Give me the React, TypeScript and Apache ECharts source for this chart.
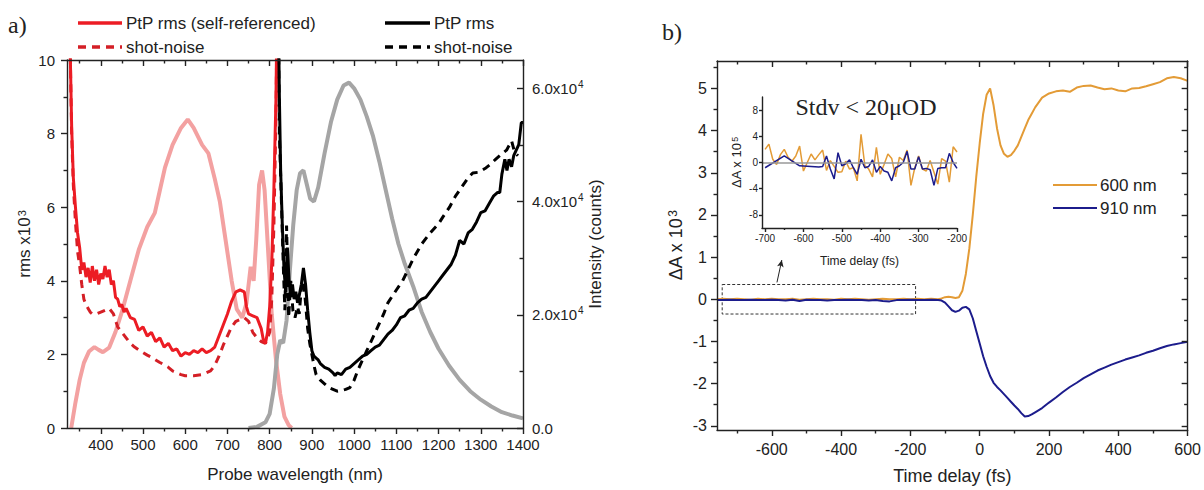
import React, { useEffect, useRef } from 'react';
import * as echarts from 'echarts';

// ---------- Panel a data ----------
const pinkWl = [330, 340, 350, 360, 372, 385, 395, 405, 420, 435, 450, 470, 490, 510, 528, 540, 552, 570, 590, 606, 620, 640, 655, 670, 682, 696, 710, 722, 735, 745, 755, 762, 768, 775, 782, 788, 795, 805, 815, 825, 835, 845, 852];
const pinkCounts = [0, 4500, 8500, 11500, 13500, 14300, 13800, 13400, 14200, 17000, 20500, 26000, 31500, 35500, 38000, 42000, 46000, 50000, 53000, 54500, 53000, 50000, 48500, 44000, 40000, 33000, 26000, 21000, 19500, 22000, 28500, 26000, 33000, 43000, 45500, 42000, 33000, 20000, 12000, 6000, 2000, 500, 0];

const grayWl = [750, 770, 790, 800, 810, 818, 825, 832, 840, 848, 856, 864, 872, 880, 888, 896, 905, 915, 930, 945, 960, 975, 988, 1000, 1015, 1030, 1045, 1060, 1075, 1090, 1105, 1120, 1140, 1160, 1180, 1200, 1225, 1250, 1275, 1300, 1325, 1350, 1375, 1400];
const grayCounts = [0, 200, 1000, 2500, 7000, 13000, 15500, 15000, 19000, 28000, 36000, 42000, 45000, 45500, 43000, 40500, 40000, 42500, 48500, 54000, 58000, 60500, 61000, 60000, 58000, 55000, 51500, 47000, 42000, 37000, 32500, 29000, 25000, 20500, 17000, 14000, 11000, 8500, 6500, 5000, 3800, 2800, 2200, 1700];

const redWl = [326, 328, 331, 335, 340, 345, 350, 355, 360, 365, 370, 375, 380, 385, 390, 395, 400, 405, 410, 415, 420, 425, 430, 435, 440, 445, 450, 455, 460, 470, 480, 490, 500, 510, 520, 530, 540, 550, 560, 570, 580, 590, 600, 610, 620, 630, 640, 650, 660, 670, 680, 690, 700, 710, 720, 730, 740, 745, 750, 760, 770, 780, 785, 790, 795, 800, 805, 810, 815, 818];
const redRms = [12, 10, 8.2, 6.8, 6.0, 5.3, 4.9, 4.3, 4.5, 4.1, 4.35, 3.95, 4.4, 4.0, 4.3, 3.9, 4.2, 4.05, 4.4, 4.1, 4.3, 3.9, 4.0, 3.55, 3.5, 3.3, 3.35, 3.15, 3.25, 3.0, 2.95, 2.65, 2.75, 2.5, 2.6, 2.35, 2.45, 2.2, 2.3, 2.1, 2.15, 1.95, 2.05, 2.0, 2.1, 2.05, 2.15, 2.05, 2.1, 2.2, 2.5, 2.8, 3.1, 3.45, 3.7, 3.75, 3.7, 3.3, 3.1, 3.05, 3.0, 2.7, 2.4, 2.3, 2.6, 3.3, 4.5, 6.5, 9, 12];

const redShotWl = [326, 328, 331, 335, 340, 345, 350, 355, 360, 365, 370, 375, 380, 390, 400, 410, 420, 430, 440, 450, 460, 470, 480, 490, 500, 510, 520, 530, 540, 550, 560, 570, 580, 590, 600, 620, 640, 660, 670, 680, 690, 700, 710, 720, 730, 740, 750, 760, 770, 780, 790, 800, 805, 810, 815, 818];
const redShot = [12, 10, 8.0, 6.6, 5.6, 4.8, 4.4, 3.9, 3.5, 3.35, 3.25, 3.15, 3.1, 3.1, 3.15, 3.2, 3.25, 3.1, 2.75, 2.6, 2.45, 2.3, 2.2, 2.12, 2.05, 1.98, 1.92, 1.85, 1.78, 1.72, 1.65, 1.55, 1.5, 1.45, 1.42, 1.42, 1.45, 1.55, 1.7, 1.95, 2.25, 2.5, 2.75, 2.9, 2.95, 3.0, 2.9, 2.6, 2.45, 2.35, 2.3, 2.6, 3.5, 5.5, 8.5, 12];

const blackWl = [820, 823, 826, 830, 834, 838, 842, 846, 850, 854, 858, 862, 866, 870, 875, 880, 885, 890, 895, 900, 905, 910, 915, 920, 930, 940, 950, 955, 960, 970, 980, 990, 1000, 1010, 1020, 1030, 1040, 1050, 1060, 1070, 1080, 1090, 1100, 1110, 1120, 1130, 1140, 1150, 1160, 1170, 1180, 1190, 1200, 1210, 1220, 1230, 1240, 1250, 1260, 1270, 1280, 1290, 1300, 1310, 1320, 1330, 1340, 1345, 1350, 1357, 1362, 1367, 1373, 1378, 1384, 1390, 1396, 1400];
const blackRms = [12, 9, 7, 5.5, 4.3, 3.7, 4.9, 4.0, 3.6, 3.9, 3.5, 3.7, 3.4, 3.6, 3.9, 4.35, 3.9, 3.2, 2.6, 2.1, 1.95, 1.9, 1.85, 1.75, 1.65, 1.6, 1.5, 1.42, 1.5, 1.45, 1.6, 1.65, 1.75, 1.85, 1.95, 2.0, 2.1, 2.2, 2.25, 2.4, 2.55, 2.65, 2.8, 3.0, 3.05, 3.2, 3.25, 3.4, 3.5, 3.55, 3.7, 3.85, 4.0, 4.15, 4.3, 4.45, 4.7, 5.1, 5.0, 5.3, 5.4, 5.6, 5.85, 5.9, 6.1, 6.3, 6.4, 6.4, 6.9, 7.3, 7.0, 7.3, 7.1, 7.4, 7.55, 7.7, 8.3, 8.3];

const blackShotWl = [820, 823, 827, 832, 836, 840, 845, 850, 855, 860, 866, 870, 875, 880, 885, 890, 895, 900, 905, 910, 920, 930, 940, 950, 960, 970, 980, 990, 1000, 1010, 1020, 1030, 1040, 1050, 1060, 1070, 1080, 1100, 1115, 1140, 1160, 1180, 1200, 1210, 1226, 1240, 1255, 1270, 1281, 1295, 1310, 1321, 1335, 1350, 1361, 1373, 1380, 1388];
const blackShot = [12, 8, 6.5, 4.5, 3.2, 5.5, 3.0, 4.0, 3.2, 3.0, 3.3, 3.1, 3.8, 4.0, 3.4, 2.7, 2.3, 2.0, 1.7, 1.45, 1.3, 1.2, 1.1, 1.05, 1.0, 1.02, 1.05, 1.1, 1.3, 1.6, 1.85, 2.1, 2.35, 2.6, 2.85, 3.1, 3.4, 3.75, 4.0, 4.6, 5.0, 5.3, 5.55, 5.73, 6.0, 6.3, 6.55, 6.8, 6.93, 6.95, 7.05, 7.15, 7.3, 7.45, 7.55, 7.8, 7.5, 7.4];

const aXMajor = [400, 500, 600, 700, 800, 900, 1000, 1100, 1200, 1300, 1400];
const aXMinor = [350, 450, 550, 650, 750, 850, 950, 1050, 1150, 1250, 1350];
const aYLeftMajor = [0, 2, 4, 6, 8, 10];
const aYLeftMinor = [1, 3, 5, 7, 9];
const aYRightMajor = [0, 20000, 40000, 60000];
const aYRightMinor = [10000, 30000, 50000];

// ---------- Panel b data ----------
const bTime = [-758, -740, -720, -700, -680, -660, -640, -620, -600, -580, -560, -540, -520, -500, -480, -460, -440, -420, -400, -380, -360, -340, -320, -300, -280, -260, -240, -220, -200, -180, -160, -140, -120,
  -110, -100, -90, -80, -70, -60, -50, -40, -30, -20, -10, 0, 10, 20, 30, 40, 50, 60, 70, 80, 90, 100, 110, 120, 130, 140, 150, 160,
  180, 200, 220, 240, 260, 280, 300, 320, 340, 360, 380, 400, 420, 440, 460, 480, 500, 520, 540, 560, 580, 600];
const b600 = [0.00, 0.01, 0.00, 0.01, 0.00, -0.01, 0.01, 0.00, 0.01, 0.00, 0.00, 0.01, -0.01, 0.00, 0.01, 0.00, 0.00, -0.01, 0.01, 0.00, 0.01, 0.00, -0.01, 0.00, 0.01, 0.00, 0.00, 0.01, 0.00, 0.01, 0.00, 0.01, 0.00,
  0.02, 0.05, 0.06, 0.05, 0.03, 0.05, 0.2, 0.6, 1.2, 2.0, 2.9, 3.7, 4.4, 4.85, 5.0, 4.6, 4.05, 3.65, 3.45, 3.38, 3.42, 3.52, 3.65, 3.85, 4.05, 4.25, 4.4, 4.55,
  4.78, 4.88, 4.93, 4.95, 4.92, 5.02, 5.06, 5.07, 5.02, 4.98, 5.0, 4.95, 4.93, 5.0, 5.01, 5.05, 5.1, 5.15, 5.24, 5.27, 5.24, 5.18];
const b910 = [-0.02, -0.02, -0.01, -0.02, -0.02, -0.01, -0.02, -0.02, -0.01, -0.02, -0.03, -0.01, -0.04, -0.01, -0.02, -0.02, -0.03, -0.02, -0.02, -0.01, -0.02, -0.02, -0.03, -0.02, -0.04, -0.05, -0.02, -0.02, -0.01, -0.02, -0.02, -0.01, -0.02,
  -0.03, -0.08, -0.17, -0.26, -0.3, -0.27, -0.2, -0.18, -0.24, -0.45, -0.75, -1.05, -1.35, -1.6, -1.82, -1.98, -2.08, -2.16, -2.25, -2.34, -2.43, -2.52, -2.6, -2.7, -2.78, -2.77, -2.73, -2.68,
  -2.58, -2.45, -2.33, -2.2, -2.08, -1.98, -1.87, -1.78, -1.69, -1.62, -1.55, -1.49, -1.43, -1.38, -1.33, -1.27, -1.22, -1.16, -1.11, -1.07, -1.04, -1.01];

const bXMajor = [-600, -400, -200, 0, 200, 400, 600];
const bXMinor = [-700, -500, -300, -100, 100, 300, 500];
const bYMajor = [-3, -2, -1, 0, 1, 2, 3, 4, 5];
const bYMinor = [-2.5, -1.5, -0.5, 0.5, 1.5, 2.5, 3.5, 4.5, 5.5];

// Inset
const inTime600 = [-700, -690, -680, -670, -660, -650, -640, -630, -620, -610, -600, -590, -580, -570, -560, -550, -540, -530, -520, -510, -500, -490, -480, -470, -460, -450, -440, -430, -420, -410, -400, -390, -380, -370, -360, -350, -340, -330, -320, -310, -300, -290, -280, -270, -260, -250, -240, -230, -220, -210, -200];
const in600 = [2.0, 2.8, 0.5, -0.3, 1.2, 2.0, 0.8, 0.2, 1.0, 2.5, -1.3, 0.0, 1.3, 0.4, 1.2, 1.9, -1.2, 0.3, -0.6, -1.5, -1.4, 0.2, -1.0, -0.8, -2.8, 4.3, -0.5, -1.0, -2.2, 2.3, -1.8, -0.3, 1.3, 0.6, -2.2, 0.8, 0.3, 1.9, -3.5, -0.8, 1.0, -1.0, -1.3, 0.3, -1.5, -3.3, 0.6, 0.2, -3.0, 2.4, 1.6];
const inTime910 = [-700, -650, -610, -560, -550, -540, -530, -520, -510, -500, -490, -480, -470, -460, -450, -440, -430, -420, -410, -400, -390, -380, -370, -360, -350, -340, -330, -320, -310, -300, -290, -280, -270, -260, -250, -240, -230, -220, -210, -200];
const in910 = [-0.8, 1.0, -0.5, -0.7, -0.6, 1.0, -1.0, -2.5, 1.5, -0.5, -0.2, 0.4, -0.8, -1.8, 0.5, -0.8, -0.6, 0.4, -1.5, -0.6, -1.3, -1.5, -2.8, -0.8, -0.5, 0.0, 1.7, -1.0, -1.0, 0.9, -1.0, -0.9, -1.1, -3.5, -0.9, -0.8, -0.8, 1.4, 0.0, -0.9];
const inXMajor = [-700, -600, -500, -400, -300, -200];
const inXMinor = [-650, -550, -450, -350, -250];
const inYMajor = [-8, -4, 0, 4, 8];

// annotation (zoom box & arrow, in panel-b data units)
const boxT = [-743, -185];
const boxY = [-0.35, 0.35];
const arrowT = [-585, -571];
const arrowY = [0.4, 0.93];

const zip = (xs: number[], ys: number[]) => xs.map((x, i) => [x, ys[i]]);

const FONT = "'Liberation Sans', Arial, sans-serif";
const SERIF = "'Liberation Serif', 'Times New Roman', serif";
const AX = '#222';
const plain = (v: number) => String(v);

function axis(o: any) {
  return {
    type: 'value',
    gridIndex: o.grid,
    position: o.pos,
    min: o.min,
    max: o.max,
    axisLine: { show: o.line !== false, onZero: false, lineStyle: { color: AX, width: 1.4 } },
    axisTick: { show: true, inside: !!o.inside, length: o.len, customValues: o.ticks, lineStyle: { color: AX, width: 1.4 } },
    axisLabel: o.labels
      ? { show: true, customValues: o.labels, margin: o.margin, fontSize: o.fs, color: '#222', fontFamily: FONT, formatter: o.fmt || plain, rich: o.rich, lineHeight: o.lh }
      : { show: false },
    splitLine: { show: false },
    name: o.name,
    nameLocation: 'middle',
    nameGap: o.gap,
    nameRotate: o.rot,
    nameTextStyle: o.nameStyle,
    z: 5,
  };
}

const supRich = (fs: number) => ({ sup: { fontSize: fs, verticalAlign: 'top', fontFamily: FONT, color: '#222', padding: [0, 0, 0, 1] } });

function buildOption(): any {
  const xAxis = [
    // panel a
    axis({ grid: 0, pos: 'bottom', min: 320, max: 1400, len: 6, ticks: aXMajor, labels: aXMajor, margin: 9, fs: 15,
      name: 'Probe wavelength (nm)', gap: 38, nameStyle: { fontSize: 17, fontFamily: FONT, color: '#222' } }),
    axis({ grid: 0, pos: 'bottom', min: 320, max: 1400, len: 3.5, ticks: aXMinor, line: false }),
    axis({ grid: 0, pos: 'top', min: 320, max: 1400, len: 6, ticks: aXMajor, inside: true }),
    axis({ grid: 0, pos: 'top', min: 320, max: 1400, len: 3.5, ticks: aXMinor, inside: true, line: false }),
    // panel b
    axis({ grid: 1, pos: 'bottom', min: -758, max: 600, len: 6, ticks: bXMajor, labels: bXMajor, margin: 11, fs: 16,
      name: 'Time delay (fs)', gap: 37, nameStyle: { fontSize: 18, fontFamily: FONT, color: '#222' } }),
    axis({ grid: 1, pos: 'bottom', min: -758, max: 600, len: 3.5, ticks: bXMinor, line: false }),
    axis({ grid: 1, pos: 'top', min: -758, max: 600, len: 6, ticks: bXMajor, inside: true }),
    axis({ grid: 1, pos: 'top', min: -758, max: 600, len: 3.5, ticks: bXMinor, inside: true, line: false }),
    // inset
    axis({ grid: 2, pos: 'bottom', min: -708, max: -200, len: 4, ticks: inXMajor, labels: inXMajor, margin: 5, fs: 10,
      name: 'Time delay (fs)', gap: 27, nameStyle: { fontSize: 12, fontFamily: FONT, color: '#222' } }),
    axis({ grid: 2, pos: 'bottom', min: -708, max: -200, len: 2, ticks: inXMinor, line: false }),
  ];
  const yAxis = [
    // panel a left (rms)
    axis({ grid: 0, pos: 'left', min: 0, max: 10, len: 6, ticks: aYLeftMajor, labels: aYLeftMajor, margin: 12, fs: 15,
      name: 'rms x10{sup|3}', gap: 34, rot: 90,
      nameStyle: { fontSize: 17, fontFamily: FONT, color: '#222', rich: supRich(11) } }),
    // panel a right (intensity)
    axis({ grid: 0, pos: 'right', min: 0, max: 65000, len: 6, ticks: aYRightMajor, labels: aYRightMajor, inside: true, margin: 9, fs: 15, lh: 18,
      fmt: (v: number) => (v === 0 ? '0.0' : (v / 10000).toFixed(1) + 'x10{sup|4}'), rich: supRich(10),
      name: 'Intensity (counts)', gap: 64, rot: 90, nameStyle: { fontSize: 17, fontFamily: FONT, color: '#222' } }),
    axis({ grid: 0, pos: 'left', min: 0, max: 10, len: 3.5, ticks: aYLeftMinor, line: false }),
    axis({ grid: 0, pos: 'right', min: 0, max: 65000, len: 3.5, ticks: aYRightMinor, inside: true, line: false }),
    // panel b left
    axis({ grid: 1, pos: 'left', min: -3.1, max: 5.65, len: 6, ticks: bYMajor, labels: bYMajor, margin: 10, fs: 16,
      name: '\u0394A x 10{sup|3}', gap: 32, rot: 90,
      nameStyle: { fontSize: 18, fontFamily: FONT, color: '#222', rich: supRich(12) } }),
    axis({ grid: 1, pos: 'left', min: -3.1, max: 5.65, len: 3.5, ticks: bYMinor, line: false }),
    axis({ grid: 1, pos: 'right', min: -3.1, max: 5.65, len: 6, ticks: bYMajor, inside: true }),
    axis({ grid: 1, pos: 'right', min: -3.1, max: 5.65, len: 3.5, ticks: bYMinor, inside: true, line: false }),
    // inset
    axis({ grid: 2, pos: 'left', min: -10, max: 10, len: 3, ticks: inYMajor, labels: inYMajor, margin: 4, fs: 10,
      name: '\u0394A x 10{sup|5}', gap: 19, rot: 90,
      nameStyle: { fontSize: 13, fontFamily: FONT, color: '#222', rich: supRich(9) } }),
  ];

  const lineS = (name: string, xi: number, yi: number, data: number[][], color: string, width: number, extra: any = {}) => ({
    type: 'line', name, xAxisIndex: xi, yAxisIndex: yi, data, showSymbol: false, symbol: 'none', clip: true,
    lineStyle: { color, width, ...(extra.lineStyle || {}) }, itemStyle: { color }, z: extra.z ?? 2, silent: true,
    ...(extra.rest || {}),
  });

  const series = [
    lineS('Visible spectrum', 0, 1, zip(pinkWl, pinkCounts), '#f3a1a1', 4),
    lineS('NIR spectrum', 0, 1, zip(grayWl, grayCounts), '#a5a5a5', 4),
    lineS('shot-noise (self-referenced)', 0, 0, zip(redShotWl, redShot), '#d41f26', 3, { lineStyle: { type: [8, 6] }, z: 3 }),
    lineS('PtP rms (self-referenced)', 0, 0, zip(redWl, redRms), '#ec1c24', 3, { z: 4 }),
    lineS('shot-noise', 0, 0, zip(blackShotWl, blackShot), '#000000', 3, { lineStyle: { type: [8, 6] }, z: 3 }),
    lineS('PtP rms', 0, 0, zip(blackWl, blackRms), '#000000', 3, { z: 4 }),
    // panel b
    lineS('600 nm', 4, 4, zip(bTime, b600), '#e39b36', 2, {}),
    lineS('910 nm', 4, 4, zip(bTime, b910), '#1c1c8c', 2, {
      z: 3,
      rest: {
        markArea: {
          silent: true,
          itemStyle: { color: 'rgba(0,0,0,0)', borderColor: '#333', borderWidth: 1, borderType: [3, 2] },
          data: [[{ coord: [boxT[0], boxY[1]] }, { coord: [boxT[1], boxY[0]] }]],
        },
        markLine: {
          silent: true,
          symbol: ['none', 'arrow'],
          symbolSize: [5, 7],
          lineStyle: { color: '#222', width: 1, type: 'solid' },
          label: { show: false },
          data: [[{ coord: [arrowT[0], arrowY[0]] }, { coord: [arrowT[1], arrowY[1]] }]],
        },
      },
    }),
    // inset
    lineS('600 nm inset', 8, 8, zip(inTime600, in600), '#e39b36', 1.5, {
      rest: {
        markLine: {
          silent: true, symbol: 'none', label: { show: false },
          lineStyle: { color: '#999', width: 1.5, type: 'solid' },
          data: [{ yAxis: 0 }],
        },
      },
    }),
    lineS('910 nm inset', 8, 8, zip(inTime910, in910), '#1c1c8c', 1.5, { z: 3 }),
  ];

  const txt = (x: number, y: number, text: string, size: number, font = FONT, align = 'left') => ({
    type: 'text', x, y, silent: true, z: 10,
    style: { text, fontSize: size, fontFamily: font, fill: '#222', align, verticalAlign: 'middle' },
  });
  const seg = (x1: number, x2: number, y: number, color: string, w: number, dash?: number[]) => ({
    type: 'line', silent: true, z: 10,
    shape: { x1, y1: y, x2, y2: y },
    style: { stroke: color, lineWidth: w, lineDash: dash },
  });

  const graphic = [
    txt(8, 25, 'a)', 24, SERIF),
    txt(662, 32, 'b)', 24, SERIF),
    seg(78, 122, 23, '#ec1c24', 3.5),
    txt(126, 23, 'PtP rms (self-referenced)', 17),
    seg(78, 122, 47, '#d41f26', 3.5, [8, 6]),
    txt(126, 47, 'shot-noise', 17),
    seg(385, 430, 23, '#000', 3.5),
    txt(434, 23, 'PtP rms', 17),
    seg(385, 430, 47, '#000', 3.5, [8, 6]),
    txt(434, 47, 'shot-noise', 17),
    seg(1053, 1097, 185, '#e39b36', 2),
    txt(1100, 185, '600 nm', 17),
    seg(1053, 1097, 208, '#1c1c8c', 2),
    txt(1100, 208, '910 nm', 17),
    txt(866, 107, 'Stdv < 20\u03bcOD', 24, SERIF, 'center'),
  ];

  return {
    animation: false,
    backgroundColor: '#ffffff',
    grid: [
      { left: 67, top: 60, width: 456, height: 368 },
      { left: 717, top: 61, width: 472, height: 375 },
      { left: 762, top: 97, width: 195, height: 131 },
    ],
    xAxis,
    yAxis,
    series,
    graphic,
  };
}

export default function App() {
  const ref = useRef<HTMLDivElement>(null);
  useEffect(() => {
    document.body.style.margin = '0';
    const chart = echarts.init(ref.current!, null, { renderer: 'svg' });
    chart.setOption(buildOption());
    return () => chart.dispose();
  }, []);
  return <div ref={ref} style={{ width: 1204, height: 490 }} />;
}
